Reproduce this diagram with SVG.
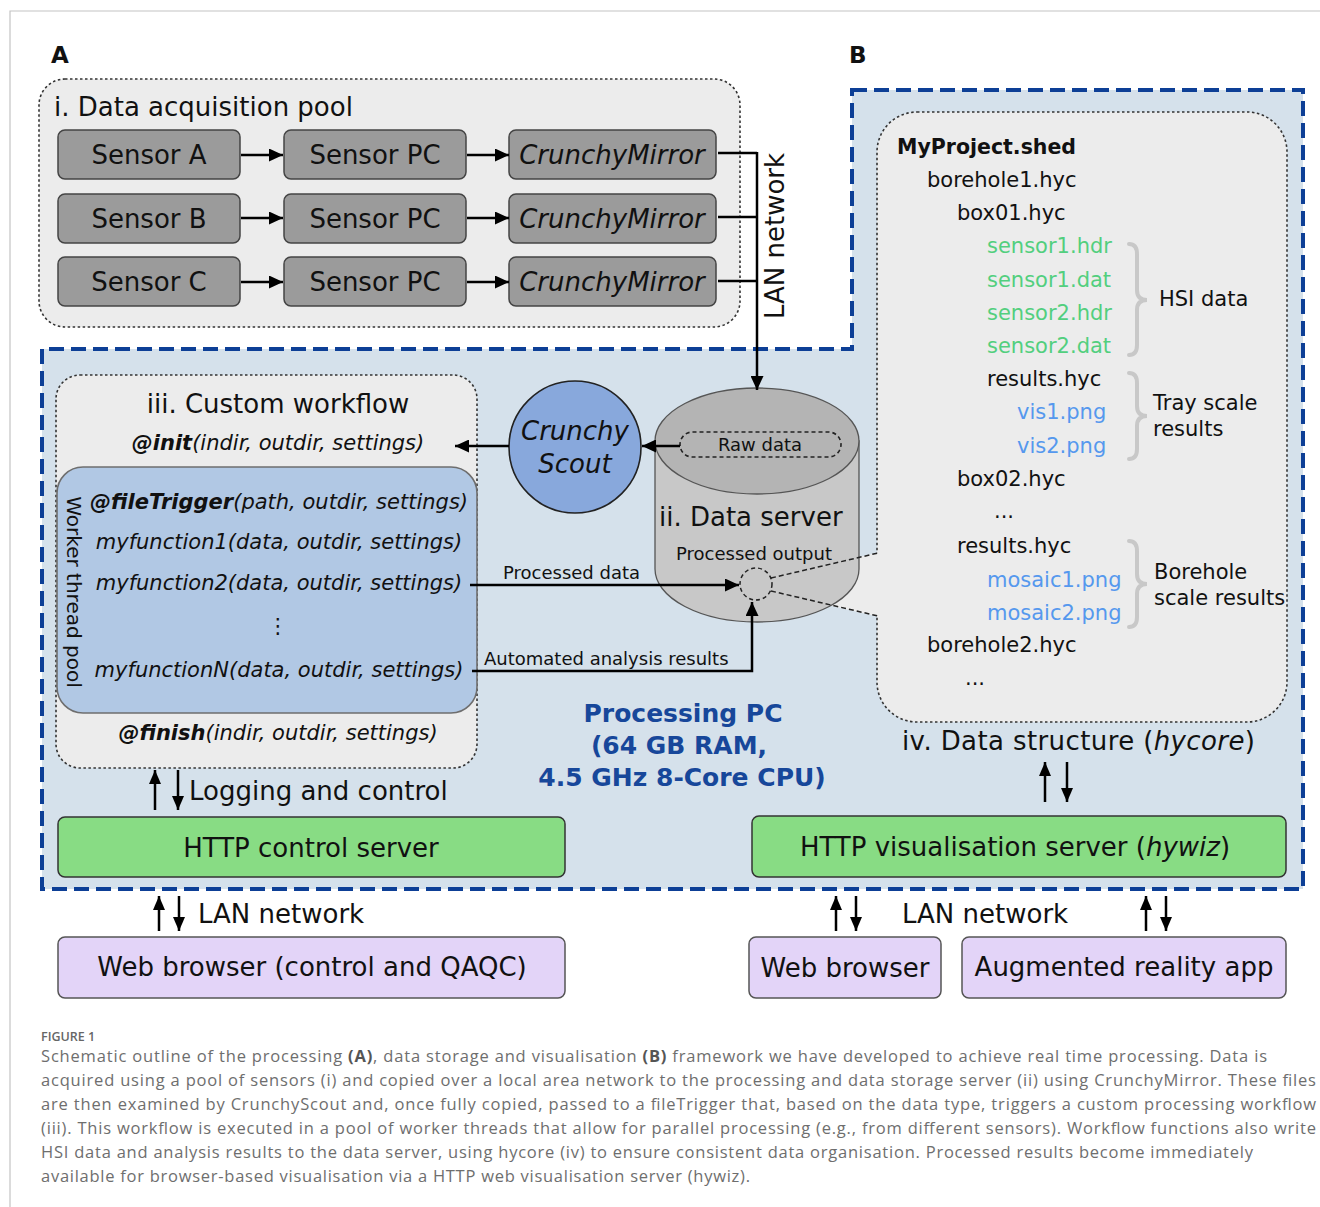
<svg xmlns="http://www.w3.org/2000/svg" width="1320" height="1207" viewBox="0 0 1320 1207">
<style>
text{font-family:"DejaVu Sans","Liberation Sans",sans-serif;fill:#111}
.t26{font-size:26px}
.t21{font-size:21px}
.t18{font-size:18px}
.it{font-style:italic}
.b{font-weight:bold}
.mid{text-anchor:middle}
.gbox{fill:#9b9b9b;stroke:#444;stroke-width:1.5}
.green{fill:#88dc84;stroke:#333;stroke-width:1.5}
.purple{fill:#e3d4f8;stroke:#555;stroke-width:1.5}
.dotbox{fill:#ececec;stroke:#333;stroke-width:1.6;stroke-dasharray:2.5 2.5}
.conn{fill:none;stroke:#000;stroke-width:2.5}
.bi{fill:none;stroke:#000;stroke-width:2.5}
.brace{fill:none;stroke:#c8c8c8;stroke-width:4;stroke-linecap:round}
.hsi{fill:#52cf7e}
.png{fill:#5598ee}
.cap{font-family:"Open Sans","Liberation Sans",sans-serif;font-size:16.5px;fill:#6e6e6e}
.pc{fill:#17479a;font-weight:bold;font-size:25px}
</style>
<defs>
<marker id="ah" viewBox="0 0 10 10" refX="10" refY="5" markerWidth="14" markerHeight="13" markerUnits="userSpaceOnUse" orient="auto" preserveAspectRatio="none"><path d="M0,0 L10,5 L0,10 z" fill="#000"/></marker>
<marker id="ah2" viewBox="0 0 10 10" refX="10" refY="5" markerWidth="14" markerHeight="12" markerUnits="userSpaceOnUse" orient="auto" preserveAspectRatio="none"><path d="M0,0 L10,5 L0,10 z" fill="#000"/></marker>
</defs>
<rect width="1320" height="1207" fill="#fff"/>
<path d="M10,1207 V11 H1320" fill="none" stroke="#c4c4c4" stroke-width="1.2"/>
<text x="51" y="63" class="b" style="font-size:23px">A</text>
<text x="849" y="63" class="b" style="font-size:23px">B</text>

<!-- processing PC region -->
<g id="processing-pc">
<path d="M852,90 H1303 V889 H42 V349 H852 Z" fill="#d5e1eb" stroke="#0d3f96" stroke-width="4" stroke-dasharray="15 7"/>
<text x="683" y="722" class="pc mid">Processing PC</text>
<text x="679" y="754" class="pc mid">(64 GB RAM,</text>
<text x="682" y="786" class="pc mid">4.5 GHz 8-Core CPU)</text>
</g>

<!-- data acquisition pool -->
<g id="acquisition-pool">
<rect x="39" y="79" width="701" height="248" rx="26" class="dotbox"/>
<text x="54" y="116" class="t26">i. Data acquisition pool</text>
</g>
<g id="sensor-a"><rect x="58" y="130" width="182" height="49" rx="7" class="gbox"/><text x="149" y="164" class="t26 mid">Sensor A</text></g>
<g id="sensor-b"><rect x="58" y="194" width="182" height="49" rx="7" class="gbox"/><text x="149" y="228" class="t26 mid">Sensor B</text></g>
<g id="sensor-c"><rect x="58" y="257" width="182" height="49" rx="7" class="gbox"/><text x="149" y="291" class="t26 mid">Sensor C</text></g>
<g id="sensor-pc-a"><rect x="284" y="130" width="182" height="49" rx="7" class="gbox"/><text x="375" y="164" class="t26 mid">Sensor PC</text></g>
<g id="sensor-pc-b"><rect x="284" y="194" width="182" height="49" rx="7" class="gbox"/><text x="375" y="228" class="t26 mid">Sensor PC</text></g>
<g id="sensor-pc-c"><rect x="284" y="257" width="182" height="49" rx="7" class="gbox"/><text x="375" y="291" class="t26 mid">Sensor PC</text></g>
<g id="mirror-a"><rect x="509" y="130" width="207" height="49" rx="7" class="gbox"/><text x="612" y="164" class="t26 mid it">CrunchyMirror</text></g>
<g id="mirror-b"><rect x="509" y="194" width="207" height="49" rx="7" class="gbox"/><text x="612" y="228" class="t26 mid it">CrunchyMirror</text></g>
<g id="mirror-c"><rect x="509" y="257" width="207" height="49" rx="7" class="gbox"/><text x="612" y="291" class="t26 mid it">CrunchyMirror</text></g>

<!-- data structure -->
<g id="data-structure">
<rect x="877" y="112" width="410" height="610" rx="40" class="dotbox"/>
<text x="897" y="154" class="b" style="font-size:20.5px">MyProject.shed</text>
<text x="927" y="187" class="t21">borehole1.hyc</text>
<text x="957" y="220" class="t21">box01.hyc</text>
<text x="987" y="253" class="t21 hsi">sensor1.hdr</text>
<text x="987" y="287" class="t21 hsi">sensor1.dat</text>
<text x="987" y="320" class="t21 hsi">sensor2.hdr</text>
<text x="987" y="353" class="t21 hsi">sensor2.dat</text>
<text x="987" y="386" class="t21">results.hyc</text>
<text x="1017" y="419" class="t21 png">vis1.png</text>
<text x="1017" y="453" class="t21 png">vis2.png</text>
<text x="957" y="486" class="t21">box02.hyc</text>
<text x="994" y="518" class="t21">...</text>
<text x="957" y="553" class="t21">results.hyc</text>
<text x="987" y="587" class="t21 png">mosaic1.png</text>
<text x="987" y="620" class="t21 png">mosaic2.png</text>
<text x="927" y="652" class="t21">borehole2.hyc</text>
<text x="965" y="685" class="t21">...</text>
<path class="brace" d="M1129,244 Q1137,244 1137,254 L1137,290 Q1137,300 1147,300 Q1137,300 1137,310 L1137,345 Q1137,355 1129,355"/>
<path class="brace" d="M1129,373 Q1137,373 1137,383 L1137,406 Q1137,416 1147,416 Q1137,416 1137,426 L1137,449 Q1137,459 1129,459"/>
<path class="brace" d="M1129,541 Q1137,541 1137,551 L1137,574 Q1137,584 1147,584 Q1137,584 1137,594 L1137,617 Q1137,627 1129,627"/>
<text x="1159" y="306" class="t21">HSI data</text>
<text x="1153" y="410" class="t21">Tray scale</text>
<text x="1153" y="436" class="t21">results</text>
<text x="1154" y="579" class="t21">Borehole</text>
<text x="1154" y="605" class="t21">scale results</text>
<text x="902" y="750" class="t26" textLength="353" lengthAdjust="spacing">iv. Data structure (<tspan class="it">hycore</tspan>)</text>
</g>

<!-- wedge -->
<polygon points="770,578 880,552 880,617 770,592" fill="#ececec"/>

<!-- data server -->
<g id="data-server">
<path d="M655,441 V569 A102,53 0 0 0 859,569 V441 Z" fill="#c8c8c8" stroke="#555" stroke-width="1.3"/>
<ellipse cx="757" cy="441" rx="102" ry="53" fill="#b4b4b4" stroke="#555" stroke-width="1.3"/>
<rect x="680" y="432" width="161" height="25" rx="12.5" fill="none" stroke="#222" stroke-width="1.6" stroke-dasharray="4 3"/>
<text x="760" y="451" class="t18 mid">Raw data</text>
<text x="659" y="526" class="t26">ii. Data server</text>
<text x="754" y="560" class="t18 mid">Processed output</text>
<circle cx="756" cy="584" r="16" fill="#c8c8c8" stroke="#222" stroke-width="1.5" stroke-dasharray="4 3"/>
<path d="M771,578 L878,553 M771,591 L878,616" fill="none" stroke="#222" stroke-width="1.5" stroke-dasharray="5 3"/>
</g>

<!-- crunchy scout -->
<g id="crunchy-scout">
<circle cx="575" cy="447" r="66" fill="#88a8dc" stroke="#222" stroke-width="1.6"/>
<text x="575" y="440" class="t26 it mid">Crunchy</text>
<text x="575" y="473" class="t26 it mid">Scout</text>
</g>

<!-- custom workflow -->
<g id="custom-workflow">
<rect x="56" y="375" width="421" height="393" rx="24" class="dotbox"/>
<text x="278" y="413" class="t26 mid">iii. Custom workflow</text>
<text x="278" y="450" class="t21 it mid"><tspan class="b">@init</tspan>(indir, outdir, settings)</text>
<text x="278" y="740" class="t21 it mid"><tspan class="b">@finish</tspan>(indir, outdir, settings)</text>
</g>
<g id="worker-pool">
<rect x="57" y="467" width="420" height="246" rx="26" fill="#b1c8e4" stroke="#6e6e6e" stroke-width="1.6"/>
<text transform="translate(67,592) rotate(90)" class="mid" style="font-size:20px">Worker thread pool</text>
<text x="279" y="509" class="t21 it mid"><tspan class="b">@fileTrigger</tspan>(path, outdir, settings)</text>
<text x="279" y="549" class="t21 it mid">myfunction1(data, outdir, settings)</text>
<text x="279" y="590" class="t21 it mid">myfunction2(data, outdir, settings)</text>
<text x="278" y="633" class="t21 mid">⋮</text>
<text x="279" y="677" class="t21 it mid">myfunctionN(data, outdir, settings)</text>
</g>

<!-- servers and clients -->
<g id="http-control"><rect x="58" y="817" width="507" height="60" rx="7" class="green"/><text x="311" y="857" class="t26 mid">HTTP control server</text></g>
<g id="http-vis"><rect x="752" y="816" width="534" height="61" rx="7" class="green"/><text x="1015" y="856" class="t26 mid">HTTP visualisation server (<tspan class="it">hywiz</tspan>)</text></g>
<g id="web-browser-control"><rect x="58" y="937" width="507" height="61" rx="7" class="purple"/><text x="312" y="976" class="t26 mid">Web browser (control and QAQC)</text></g>
<g id="web-browser"><rect x="749" y="937" width="192" height="61" rx="7" class="purple"/><text x="845" y="977" class="t26 mid">Web browser</text></g>
<g id="ar-app"><rect x="962" y="937" width="324" height="61" rx="7" class="purple"/><text x="1124" y="976" class="t26 mid">Augmented reality app</text></g>

<!-- connectors -->
<g id="connectors">
<line x1="241" y1="155" x2="283" y2="155" class="conn" marker-end="url(#ah)"/>
<line x1="241" y1="218" x2="283" y2="218" class="conn" marker-end="url(#ah)"/>
<line x1="241" y1="282" x2="283" y2="282" class="conn" marker-end="url(#ah)"/>
<line x1="467" y1="155" x2="509" y2="155" class="conn" marker-end="url(#ah)"/>
<line x1="467" y1="218" x2="509" y2="218" class="conn" marker-end="url(#ah)"/>
<line x1="467" y1="282" x2="509" y2="282" class="conn" marker-end="url(#ah)"/>
<path d="M718,153 H757 M718,217 H757 M718,281 H757" class="conn"/>
<path d="M757,152 V390" class="conn" marker-end="url(#ah)"/>
<text transform="translate(784,236) rotate(-90)" class="t26 mid">LAN network</text>
<line x1="680" y1="446" x2="642" y2="446" class="conn" marker-end="url(#ah)"/>
<line x1="509" y1="446" x2="455" y2="446" class="conn" marker-end="url(#ah)"/>
<line x1="470" y1="585" x2="739" y2="585" class="conn" marker-end="url(#ah)"/>
<text x="503" y="579" class="t18">Processed data</text>
<path d="M472,671 H752 V602" class="conn" marker-end="url(#ah)"/>
<text x="484" y="665" class="t18">Automated analysis results</text>
<line x1="155" y1="810" x2="155" y2="770" class="bi" marker-end="url(#ah2)"/>
<line x1="178" y1="770" x2="178" y2="810" class="bi" marker-end="url(#ah2)"/>
<text x="189" y="800" class="t26">Logging and control</text>
<line x1="1045" y1="802" x2="1045" y2="762" class="bi" marker-end="url(#ah2)"/>
<line x1="1067" y1="762" x2="1067" y2="802" class="bi" marker-end="url(#ah2)"/>
<line x1="159" y1="931" x2="159" y2="896" class="bi" marker-end="url(#ah2)"/>
<line x1="179" y1="896" x2="179" y2="931" class="bi" marker-end="url(#ah2)"/>
<text x="198" y="923" class="t26">LAN network</text>
<line x1="836" y1="931" x2="836" y2="896" class="bi" marker-end="url(#ah2)"/>
<line x1="856" y1="896" x2="856" y2="931" class="bi" marker-end="url(#ah2)"/>
<text x="902" y="923" class="t26">LAN network</text>
<line x1="1146" y1="931" x2="1146" y2="896" class="bi" marker-end="url(#ah2)"/>
<line x1="1166" y1="896" x2="1166" y2="931" class="bi" marker-end="url(#ah2)"/>
</g>

<!-- caption -->
<g id="caption">
<text x="41" y="1041" style="font-family:'Open Sans','Liberation Sans',sans-serif;font-size:12.5px;font-weight:600;fill:#666">FIGURE 1</text>
<text x="41" y="1062" class="cap" textLength="1226" lengthAdjust="spacing">Schematic outline of the processing <tspan font-weight="bold" fill="#555">(A)</tspan>, data storage and visualisation <tspan font-weight="bold" fill="#555">(B)</tspan> framework we have developed to achieve real time processing. Data is</text>
<text x="41" y="1086" class="cap" textLength="1275" lengthAdjust="spacing">acquired using a pool of sensors (i) and copied over a local area network to the processing and data storage server (ii) using CrunchyMirror. These files</text>
<text x="41" y="1110" class="cap" textLength="1275" lengthAdjust="spacing">are then examined by CrunchyScout and, once fully copied, passed to a fileTrigger that, based on the data type, triggers a custom processing workflow</text>
<text x="41" y="1134" class="cap" textLength="1275" lengthAdjust="spacing">(iii). This workflow is executed in a pool of worker threads that allow for parallel processing (e.g., from different sensors). Workflow functions also write</text>
<text x="41" y="1158" class="cap" textLength="1212" lengthAdjust="spacing">HSI data and analysis results to the data server, using hycore (iv) to ensure consistent data organisation. Processed results become immediately</text>
<text x="41" y="1182" class="cap" textLength="709" lengthAdjust="spacing">available for browser-based visualisation via a HTTP web visualisation server (hywiz).</text>
</g>
</svg>
